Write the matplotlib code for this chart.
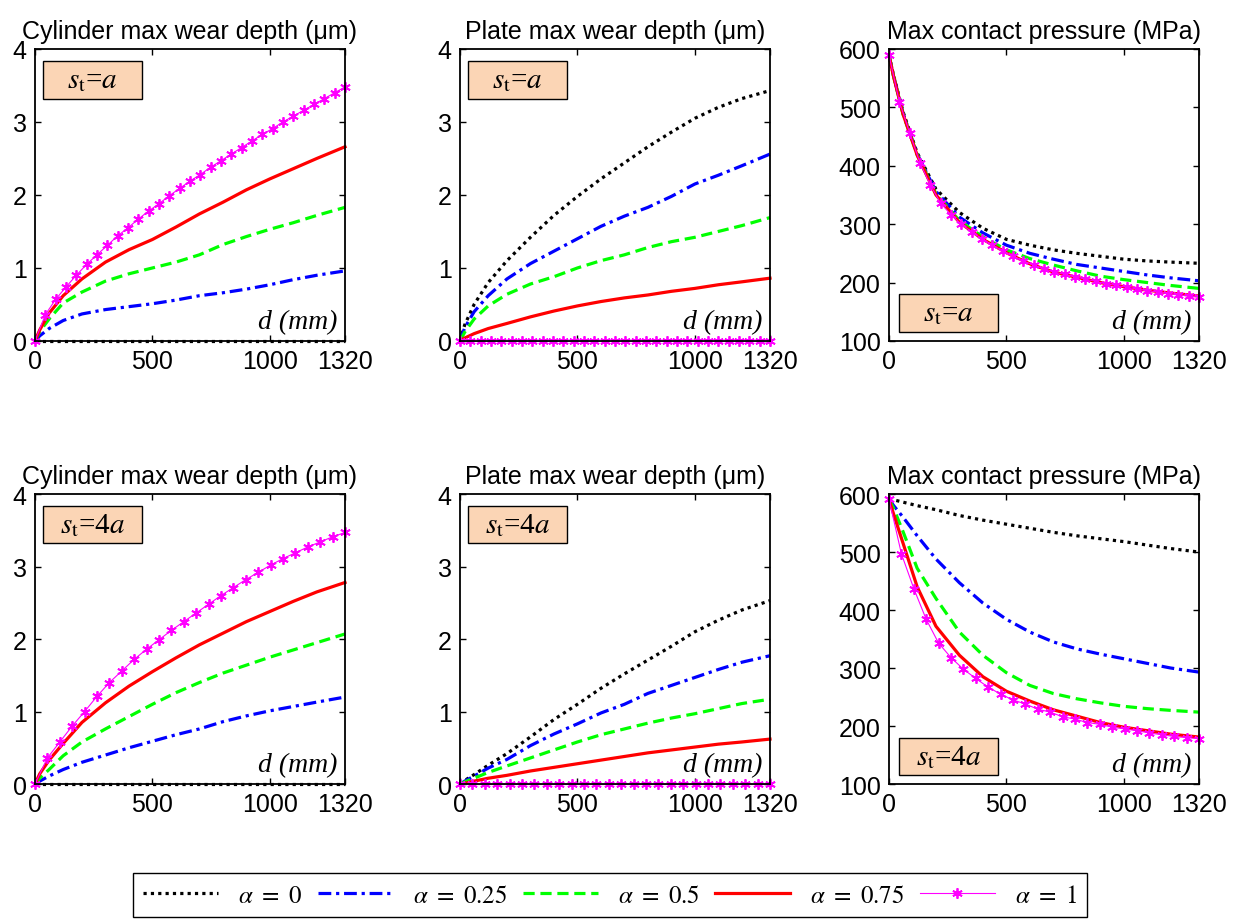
import numpy as np
import matplotlib.pyplot as plt
from matplotlib.patches import Rectangle

plt.rcParams['font.family'] = ['Liberation Sans', 'DejaVu Sans']
plt.rcParams['mathtext.fontset'] = 'stix'

# sliding distance d (mm)
d = [0, 20, 60, 120, 200, 300, 400, 500, 600, 700, 800, 900, 1000, 1100, 1200, 1320]
d_mk_top = np.linspace(0, 1320, 31)   # alpha = 1 samples, top row
d_mk_bot = np.linspace(0, 1320, 26)   # alpha = 1 samples, bottom row

alpha_labels = [r'$\alpha\ =\ 0$', r'$\alpha\ =\ 0.25$', r'$\alpha\ =\ 0.5$',
                r'$\alpha\ =\ 0.75$', r'$\alpha\ =\ 1$']
xticks = [0, 500, 1000, 1320]

# ---- s_t = a ----
cyl_a_000 = [0.0] * len(d)
cyl_a_025 = [0, 0.07, 0.17, 0.28, 0.37, 0.43, 0.47, 0.51, 0.56, 0.62, 0.66, 0.71, 0.77, 0.84, 0.90, 0.96]
cyl_a_050 = [0, 0.13, 0.30, 0.52, 0.67, 0.82, 0.92, 1.00, 1.08, 1.18, 1.32, 1.43, 1.53, 1.62, 1.72, 1.83]
cyl_a_075 = [0, 0.15, 0.38, 0.62, 0.85, 1.08, 1.25, 1.39, 1.56, 1.74, 1.90, 2.07, 2.22, 2.36, 2.50, 2.66]
cyl_a_100 = [0, 0.36, 0.57, 0.74, 0.90, 1.05, 1.18, 1.31, 1.44, 1.55, 1.67, 1.78, 1.88, 1.99, 2.09, 2.19,
             2.28, 2.38, 2.47, 2.56, 2.65, 2.74, 2.83, 2.91, 3.00, 3.08, 3.16, 3.24, 3.32, 3.40, 3.48]

plate_a_000 = [0, 0.22, 0.50, 0.80, 1.10, 1.42, 1.72, 1.98, 2.22, 2.44, 2.66, 2.86, 3.05, 3.20, 3.32, 3.43]
plate_a_025 = [0, 0.18, 0.40, 0.62, 0.85, 1.06, 1.23, 1.40, 1.57, 1.71, 1.83, 1.98, 2.15, 2.27, 2.40, 2.56]
plate_a_050 = [0, 0.12, 0.30, 0.48, 0.64, 0.78, 0.88, 1.00, 1.10, 1.18, 1.28, 1.36, 1.42, 1.50, 1.58, 1.69]
plate_a_075 = [0, 0.04, 0.10, 0.17, 0.24, 0.33, 0.41, 0.48, 0.54, 0.59, 0.63, 0.68, 0.72, 0.77, 0.81, 0.86]
plate_a_100 = [0.0] * len(d_mk_top)

pres_a_000 = [589, 554, 492, 422, 360, 320, 293, 274, 264, 256, 250, 245, 240, 237, 235, 233]
pres_a_025 = [589, 553, 490, 420, 356, 312, 285, 264, 250, 240, 231, 225, 219, 213, 208, 203]
pres_a_050 = [589, 552, 488, 419, 352, 306, 278, 256, 241, 230, 220, 211, 205, 200, 195, 190]
pres_a_075 = [589, 552, 488, 418, 350, 303, 274, 251, 232, 218, 209, 200, 193, 187, 182, 177]
pres_a_100 = [589, 510, 456, 405, 367, 336, 316, 300, 287, 275, 264, 254, 245, 237, 230, 224,
              218, 214, 210, 206, 202, 198, 195, 192, 189, 186, 184, 181, 179, 177, 175]

# ---- s_t = 4a ----
cyl_4a_000 = [0.0] * len(d)
cyl_4a_025 = [0, 0.04, 0.11, 0.20, 0.30, 0.40, 0.50, 0.59, 0.68, 0.76, 0.86, 0.94, 1.01, 1.07, 1.13, 1.20]
cyl_4a_050 = [0, 0.08, 0.20, 0.39, 0.58, 0.76, 0.93, 1.10, 1.26, 1.40, 1.53, 1.64, 1.75, 1.85, 1.95, 2.07]
cyl_4a_075 = [0, 0.14, 0.33, 0.56, 0.85, 1.12, 1.35, 1.55, 1.74, 1.92, 2.08, 2.24, 2.38, 2.52, 2.65, 2.78]
cyl_4a_100 = [0, 0.36, 0.58, 0.80, 1.00, 1.21, 1.40, 1.56, 1.72, 1.86, 1.99, 2.12, 2.24,
              2.36, 2.48, 2.60, 2.71, 2.82, 2.92, 3.02, 3.11, 3.19, 3.27, 3.34, 3.41, 3.47]

plate_4a_000 = [0, 0.05, 0.13, 0.26, 0.42, 0.65, 0.89, 1.10, 1.32, 1.52, 1.71, 1.90, 2.10, 2.26, 2.40, 2.53]
plate_4a_025 = [0, 0.04, 0.11, 0.22, 0.34, 0.53, 0.69, 0.83, 0.98, 1.10, 1.25, 1.36, 1.47, 1.58, 1.68, 1.77]
plate_4a_050 = [0, 0.03, 0.08, 0.16, 0.25, 0.36, 0.47, 0.58, 0.68, 0.76, 0.84, 0.91, 0.97, 1.04, 1.11, 1.17]
plate_4a_075 = [0, 0.01, 0.04, 0.08, 0.12, 0.18, 0.23, 0.28, 0.33, 0.38, 0.43, 0.47, 0.51, 0.55, 0.58, 0.62]
plate_4a_100 = [0.0] * len(d_mk_bot)

pres_4a_000 = [591, 590, 586, 580, 573, 563, 555, 548, 541, 534, 528, 523, 518, 512, 506, 500]
pres_4a_025 = [591, 580, 560, 528, 488, 447, 412, 384, 362, 345, 333, 324, 316, 308, 300, 293]
pres_4a_050 = [591, 575, 535, 472, 420, 362, 322, 292, 270, 256, 247, 240, 234, 230, 227, 224]
pres_4a_075 = [591, 565, 515, 440, 372, 322, 285, 260, 243, 228, 217, 206, 198, 192, 186, 181]
pres_4a_100 = [591, 497, 437, 384, 343, 318, 298, 282, 267, 255, 245, 238, 229, 224, 216, 212,
               206, 203, 198, 195, 192, 188, 185, 182, 180, 178]

styles = [
    dict(color='black', ls=(0, (1, 1.3)), lw=2.3),
    dict(color='#0000FF', ls=(0, (4, 1.5, 1, 1.5)), lw=2.3),
    dict(color='#00FF00', ls=(0, (3.5, 1.8)), lw=2.3),
    dict(color='#FF0000', ls='-', lw=2.3),
    dict(color='#FF00FF', ls='-', lw=0.8, marker=(6, 2, 0), ms=7.5, mew=1.3),
]

panels = [
    ("Cylinder max wear depth (\u03bcm)", [cyl_a_000, cyl_a_025, cyl_a_050, cyl_a_075, cyl_a_100], d_mk_top, r'$s_\mathrm{t}$=$a$'),
    ("Plate max wear depth (\u03bcm)", [plate_a_000, plate_a_025, plate_a_050, plate_a_075, plate_a_100], d_mk_top, r'$s_\mathrm{t}$=$a$'),
    ("Max contact pressure (MPa)", [pres_a_000, pres_a_025, pres_a_050, pres_a_075, pres_a_100], d_mk_top, r'$s_\mathrm{t}$=$a$'),
    ("Cylinder max wear depth (\u03bcm)", [cyl_4a_000, cyl_4a_025, cyl_4a_050, cyl_4a_075, cyl_4a_100], d_mk_bot, r'$s_\mathrm{t}$=4$a$'),
    ("Plate max wear depth (\u03bcm)", [plate_4a_000, plate_4a_025, plate_4a_050, plate_4a_075, plate_4a_100], d_mk_bot, r'$s_\mathrm{t}$=4$a$'),
    ("Max contact pressure (MPa)", [pres_4a_000, pres_4a_025, pres_4a_050, pres_4a_075, pres_4a_100], d_mk_bot, r'$s_\mathrm{t}$=4$a$'),
]

fig = plt.figure(figsize=(12.4, 9.2), dpi=100)
lefts = [35 / 1240, 460 / 1240, 889 / 1240]
rows = [(0.6283, 0.3174), (0.1467, 0.3152)]

handles = None
for i, (title, series, dmk, label) in enumerate(panels):
    r, c = divmod(i, 3)
    ax = fig.add_axes([lefts[c], rows[r][0], 310 / 1240, rows[r][1]])
    lines = []
    for k, (ys, st) in enumerate(zip(series, styles)):
        xs = dmk if k == 4 else d
        ln, = ax.plot(xs, ys, clip_on=False, **st)
        lines.append(ln)
    if handles is None:
        handles = lines
    ax.set_xlim(0, 1320)
    ax.set_xticks(xticks)
    if c == 2:
        ax.set_ylim(100, 600)
        ax.set_yticks(range(100, 601, 100))
        bx, by = 0.032, 0.03
    else:
        ax.set_ylim(0, 4)
        ax.set_yticks(range(0, 5))
        bx, by = 0.026, 0.83
    ax.set_title(title, fontsize=18, pad=8)
    ax.tick_params(direction='in', top=True, right=True, length=4, width=1,
                   labelsize=18, pad=6)
    for sp in ax.spines.values():
        sp.set_linewidth(1.3)
    ax.add_patch(Rectangle((bx, by), 0.32, 0.13, transform=ax.transAxes,
                           facecolor='#FBD5B5', edgecolor='black', lw=1, zorder=5))
    ax.text(bx + 0.16, by + 0.065, label, transform=ax.transAxes, ha='center',
            va='center', fontsize=21, family='Liberation Serif', zorder=6)
    ax.text(0.975, 0.025, 'd (mm)', transform=ax.transAxes, ha='right', va='bottom',
            fontsize=20, family='Liberation Serif', style='italic')

leg = fig.legend(handles, alpha_labels, loc='lower left',
                 bbox_to_anchor=(0.1073, 0.002, 0.7693, 0.045), mode='expand',
                 ncol=5, fontsize=18, fancybox=False, edgecolor='black',
                 framealpha=1, handlelength=3, handletextpad=0.8,
                 borderaxespad=0)
leg.get_frame().set_linewidth(1)

fig.savefig('out.png', dpi=100)
